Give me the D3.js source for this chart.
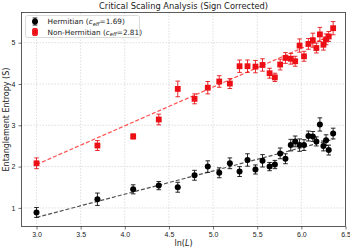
<!DOCTYPE html>
<html>
<script src="https://cdn.jsdelivr.net/npm/d3@7/dist/d3.min.js"></script>
<style>
  body, html { margin: 0; padding: 0; background: #fff; }
  svg { display: block; font-family: "DejaVu Sans", sans-serif; }
</style>
<body>
<svg width="350" height="250"></svg>
<script>

  // ln(L) positions, shared by both series
  var lnL = [3.0, 3.69, 4.095, 4.385, 4.60, 4.79, 4.94, 5.07, 5.19, 5.30, 5.39, 5.48, 5.56,
             5.64, 5.70, 5.76, 5.82, 5.88, 5.93, 5.98, 6.03, 6.08, 6.13, 6.17, 6.21, 6.25, 6.28, 6.31, 6.36];

  var hermS   = [0.89, 1.21, 1.45, 1.54, 1.50, 1.79, 2.00, 1.85, 2.08, 1.88, 2.16, 1.93, 2.14,
                 2.00, 2.05, 2.32, 2.19, 2.52, 2.61, 2.52, 2.52, 2.74, 2.73, 2.61, 3.02, 2.50, 2.64, 2.40, 2.80];
  var hermErr = [0.12, 0.15, 0.11, 0.10, 0.12, 0.12, 0.14, 0.12, 0.13, 0.12, 0.15, 0.11, 0.15,
                 0.10, 0.10, 0.13, 0.12, 0.14, 0.13, 0.15, 0.13, 0.12, 0.12, 0.11, 0.16, 0.12, 0.13, 0.12, 0.13];

  var nonHermS   = [2.08, 2.51, 2.73, 3.14, 3.88, 3.64, 3.91, 4.06, 4.01, 4.43, 4.43, 4.42, 4.46,
                    4.26, 4.16, 4.47, 4.63, 4.61, 4.55, 4.93, 4.67, 4.97, 5.06, 4.87, 5.20, 4.95, 5.08, 5.15, 5.35];
  var nonHermErr = [0.13, 0.12, 0.06, 0.13, 0.19, 0.12, 0.15, 0.14, 0.12, 0.15, 0.15, 0.15, 0.15,
                    0.12, 0.10, 0.13, 0.13, 0.13, 0.12, 0.16, 0.12, 0.13, 0.17, 0.12, 0.17, 0.13, 0.13, 0.12, 0.16];

  // fitted lines, endpoints only
  var fitX = [3.0, 6.36];
  var hermFit = [0.77, 2.66];
  var nonHermFit = [2.05, 5.20];

  var xTicks = [3.0, 3.5, 4.0, 4.5, 5.0, 5.5, 6.0, 6.5];
  var yTicks = [1, 2, 3, 4, 5];

  var mLeft = 21.5, mRight = 345.5, mTop = 12.5, mBottom = 226.5;

  var x = d3.scaleLinear().domain([2.83, 6.5]).range([mLeft, mRight]),
      y = d3.scaleLinear().domain([0.55, 5.73]).range([mBottom, mTop]);

  var svg = d3.select('svg');

  // grid
  svg.append('g').selectAll('line').data(xTicks).join('line')
    .attr('x1', function (d) { return x(d); }).attr('x2', function (d) { return x(d); })
    .attr('y1', mTop).attr('y2', mBottom)
    .attr('stroke', '#d0d0d0').attr('stroke-width', 0.7).attr('stroke-dasharray', '1.5,1.5');
  svg.append('g').selectAll('line').data(yTicks).join('line')
    .attr('y1', function (d) { return y(d); }).attr('y2', function (d) { return y(d); })
    .attr('x1', mLeft).attr('x2', mRight)
    .attr('stroke', '#d0d0d0').attr('stroke-width', 0.7).attr('stroke-dasharray', '1.5,1.5');

  // axes
  var xAxis = d3.axisBottom(x).tickValues(xTicks).tickFormat(d3.format('.1f')).tickSize(3).tickPadding(3),
      yAxis = d3.axisLeft(y).tickValues(yTicks).tickFormat(d3.format('d')).tickSize(3).tickPadding(3);

  svg.append('g').attr('transform', 'translate(0,' + mBottom + ')').call(xAxis)
    .call(function (g) { g.select('.domain').remove(); })
    .selectAll('text').attr('font-size', 7).attr('fill', '#222');
  svg.append('g').attr('transform', 'translate(' + mLeft + ',0)').call(yAxis)
    .call(function (g) { g.select('.domain').remove(); })
    .selectAll('text').attr('font-size', 7).attr('fill', '#222');
  svg.selectAll('.tick line').attr('stroke', '#333').attr('stroke-width', 0.7);

  svg.append('rect').attr('x', mLeft).attr('y', mTop)
    .attr('width', mRight - mLeft).attr('height', mBottom - mTop)
    .attr('fill', 'none').attr('stroke', '#333').attr('stroke-width', 0.8);

  // fit lines
  var line = d3.line().x(function (d) { return x(d[0]); }).y(function (d) { return y(d[1]); });
  svg.append('path').datum(d3.zip(fitX, hermFit)).attr('d', line)
    .attr('fill', 'none').attr('stroke', '#333').attr('stroke-opacity', 0.85)
    .attr('stroke-width', 1.2).attr('stroke-dasharray', '4,2');
  svg.append('path').datum(d3.zip(fitX, nonHermFit)).attr('d', line)
    .attr('fill', 'none').attr('stroke', '#ff3030').attr('stroke-opacity', 0.85)
    .attr('stroke-width', 1.2).attr('stroke-dasharray', '4,2');

  function errorBars(vals, errs, color) {
    var g = svg.append('g').attr('stroke', color).attr('stroke-width', 0.9);
    var data = d3.zip(lnL, vals, errs);
    g.selectAll('.v').data(data).join('line')
      .attr('x1', function (d) { return x(d[0]); }).attr('x2', function (d) { return x(d[0]); })
      .attr('y1', function (d) { return y(d[1] - d[2]); }).attr('y2', function (d) { return y(d[1] + d[2]); });
    [-1, 1].forEach(function (s) {
      g.selectAll('.c' + s).data(data).enter().append('line')
        .attr('x1', function (d) { return x(d[0]) - 2.3; }).attr('x2', function (d) { return x(d[0]) + 2.3; })
        .attr('y1', function (d) { return y(d[1] + s * d[2]); }).attr('y2', function (d) { return y(d[1] + s * d[2]); });
    });
  }

  errorBars(hermS, hermErr, '#111');
  svg.append('g').selectAll('circle').data(d3.zip(lnL, hermS)).join('circle')
    .attr('cx', function (d) { return x(d[0]); }).attr('cy', function (d) { return y(d[1]); })
    .attr('r', 3).attr('fill', '#000');

  errorBars(nonHermS, nonHermErr, '#e8161b');
  svg.append('g').selectAll('rect').data(d3.zip(lnL, nonHermS)).join('rect')
    .attr('x', function (d) { return x(d[0]) - 2.9; }).attr('y', function (d) { return y(d[1]) - 2.9; })
    .attr('width', 5.8).attr('height', 5.8).attr('fill', '#ec1016');

  // legend
  var lg = svg.append('g');
  lg.append('rect').attr('x', 25.5).attr('y', 15.5).attr('width', 114).attr('height', 22)
    .attr('rx', 2).attr('fill', '#fff').attr('fill-opacity', 0.85).attr('stroke', '#ccc').attr('stroke-width', 0.7);

  var items = [
    { name: 'Hermitian', c: '1.69', color: '#000', shape: 'circle' },
    { name: 'Non-Hermitian', c: '2.81', color: '#ec1016', shape: 'square' }
  ];
  items.forEach(function (it, i) {
    var cy = 21.5 + i * 10.5, cx = 35;
    lg.append('line').attr('x1', cx).attr('x2', cx).attr('y1', cy - 3.5).attr('y2', cy + 3.5)
      .attr('stroke', it.color).attr('stroke-width', 0.9);
    [-3.5, 3.5].forEach(function (o) {
      lg.append('line').attr('x1', cx - 2.3).attr('x2', cx + 2.3).attr('y1', cy + o).attr('y2', cy + o)
        .attr('stroke', it.color).attr('stroke-width', 0.9);
    });
    if (it.shape === 'circle') {
      lg.append('circle').attr('cx', cx).attr('cy', cy).attr('r', 3).attr('fill', it.color);
    } else {
      lg.append('rect').attr('x', cx - 2.9).attr('y', cy - 2.9).attr('width', 5.8).attr('height', 5.8).attr('fill', it.color);
    }
    var t = lg.append('text').attr('x', 47.5).attr('y', cy + 2.6).attr('font-size', 7.3).attr('fill', '#222');
    t.append('tspan').text(it.name + ' (');
    t.append('tspan').attr('font-style', 'italic').text('c');
    t.append('tspan').attr('font-style', 'italic').attr('font-size', 5.2).attr('dy', 1.6).text('eff');
    t.append('tspan').attr('dy', -1.6).text('=' + it.c + ')');
  });

  // titles
  svg.append('text').attr('x', (mLeft + mRight) / 2).attr('y', 8.5).attr('text-anchor', 'middle')
    .attr('font-size', 8.3).attr('fill', '#222').text('Critical Scaling Analysis (Sign Corrected)');

  var xl = svg.append('text').attr('x', (mLeft + mRight) / 2).attr('y', 246).attr('text-anchor', 'middle')
    .attr('font-size', 8).attr('fill', '#222');
  xl.append('tspan').text('ln(');
  xl.append('tspan').attr('font-style', 'italic').text('L');
  xl.append('tspan').text(')');

  svg.append('text').attr('transform', 'translate(9,' + ((mTop + mBottom) / 2) + ') rotate(-90)')
    .attr('text-anchor', 'middle').attr('font-size', 8).attr('fill', '#222')
    .text('Entanglement Entropy (S)');

</script>
</body>
</html>
